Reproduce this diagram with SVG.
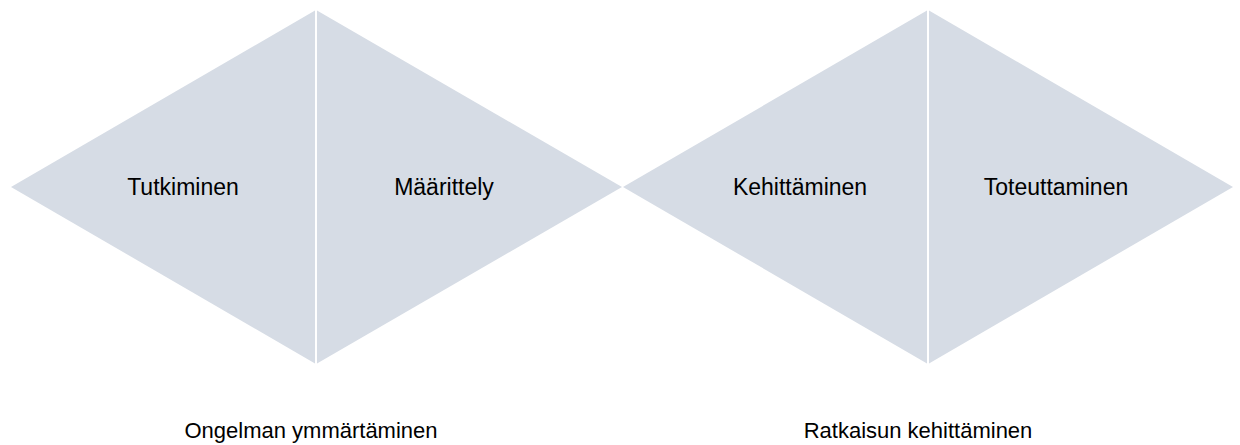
<svg xmlns="http://www.w3.org/2000/svg" width="1240" height="445" viewBox="0 0 1240 445">
  <style>
    .half { fill: #D6DCE5; stroke: none; }
    .lbl { font-family: "Liberation Sans", Arial, sans-serif; font-size: 23px; fill: #000; text-anchor: middle; }
    .cap { font-size: 22px; }
  </style>
  <rect width="1240" height="445" fill="#ffffff"/>

  <!-- first diamond: problem understanding -->
  <g id="tutkiminen">
    <polygon class="half" points="11,187 315,10.6 315,363.4"/>
    <text class="lbl" x="183" y="195">Tutkiminen</text>
  </g>
  <g id="maarittely">
    <polygon class="half" points="317,10.6 622,187 317,363.4"/>
    <text class="lbl" x="444" y="195">Määrittely</text>
  </g>

  <!-- second diamond: solution development -->
  <g id="kehittaminen">
    <polygon class="half" points="623,187 927,10.6 927,363.4"/>
    <text class="lbl" x="800" y="195">Kehittäminen</text>
  </g>
  <g id="toteuttaminen">
    <polygon class="half" points="929,10.6 1233,187 929,363.4"/>
    <text class="lbl" x="1056" y="195">Toteuttaminen</text>
  </g>

  <!-- phase captions -->
  <g id="ongelman-ymmartaminen">
    <text class="lbl cap" x="311" y="438">Ongelman ymmärtäminen</text>
  </g>
  <g id="ratkaisun-kehittaminen">
    <text class="lbl cap" x="918" y="438">Ratkaisun kehittäminen</text>
  </g>

  <g id="connectors"/>
</svg>
